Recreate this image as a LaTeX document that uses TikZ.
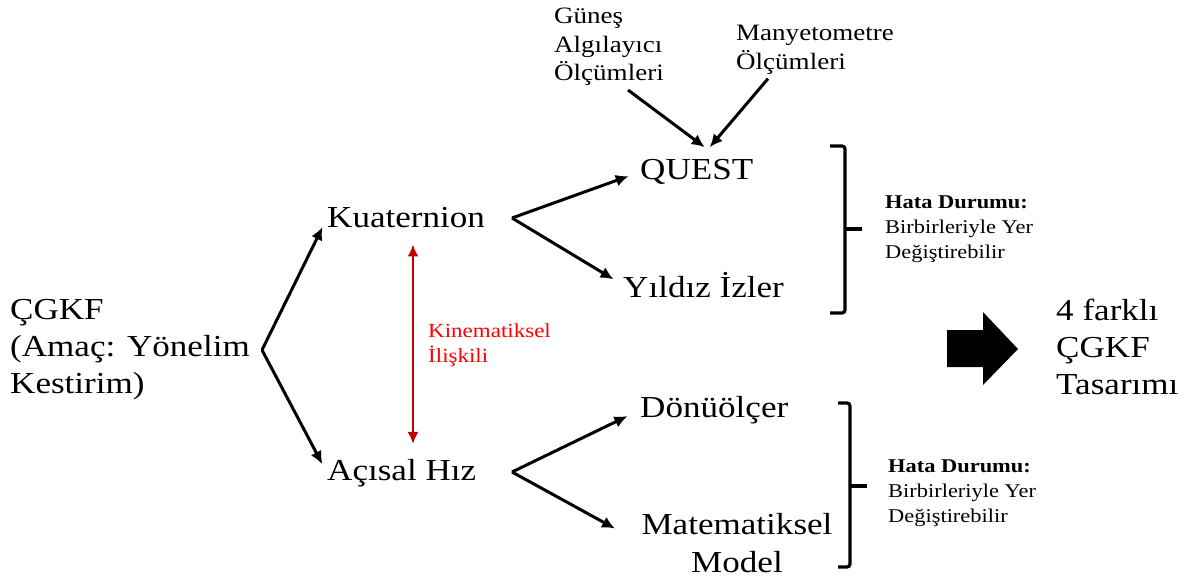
\documentclass[tikz,border=0pt]{standalone}
\usepackage{fontspec}
\setmainfont{Liberation Serif}[FakeStretch=1.15]
\usetikzlibrary{arrows.meta}
\definecolor{darkred}{RGB}{192,0,0}
\definecolor{brightred}{RGB}{255,0,0}
\tikzset{
  big/.style={inner sep=0pt, font=\fontsize{30.5}{37}\selectfont, align=left},
  mid/.style={inner sep=0pt, font=\fontsize{23.5}{28.5}\selectfont, align=left},
  small/.style={inner sep=0pt, font=\fontsize{19.5}{25}\selectfont, align=left},
  conn/.style={line width=3pt, -{Latex[length=13pt,width=12pt]}},
  redconn/.style={line width=2.8pt, darkred, {Latex[length=12pt,width=11pt]}-{Latex[length=12pt,width=11pt]}},
  brace/.style={line width=3.2pt, rounded corners=3pt}
}
\begin{document}
\begin{tikzpicture}[x=1pt,y=-1pt]
\useasboundingbox (0,0) rectangle (1189,581);
% nodes
\node[big, anchor=west] (cgkf) at (10,350) {ÇGKF\\(Amaç: Yönelim\\Kestirim)};
\node[big, anchor=west] (kua) at (327,218) {Kuaternion};
\node[big, anchor=west] (aci) at (327,473) {Açısal Hız};
\node[big, anchor=west] (quest) at (640,172) {QUEST};
\node[big, anchor=west] (yil) at (623,285) {Yıldız İzler};
\node[big, anchor=west] (don) at (640,410) {Dönüölçer};
\node[big, align=center, font=\fontsize{30.5}{38}\selectfont] (mat) at (737,543) {Matematiksel\\Model};
\node[mid, anchor=west] (gun) at (554,47) {Güneş\\Algılayıcı\\Ölçümleri};
\node[mid, anchor=west] (man) at (736,50) {Manyetometre\\Ölçümleri};
\node[small, anchor=west] (hata1) at (885,229) {\textbf{Hata Durumu:}\\Birbirleriyle Yer\\Değiştirebilir};
\node[small, anchor=west] (hata2) at (888,493) {\textbf{Hata Durumu:}\\Birbirleriyle Yer\\Değiştirebilir};
\node[small, anchor=west, text=brightred, font=\fontsize{20}{25}\selectfont] (kin) at (428,345) {Kinematiksel\\İlişkili};
\node[big, anchor=west] (res) at (1056,347) {4 farklı\\ÇGKF\\Tasarımı};
% branch vertices
\coordinate (v1) at (262,350);
\coordinate (v2) at (512,218);
\coordinate (v3) at (512,472);
\coordinate (rx) at (413,0);
% connectors
\draw[conn, shorten >=10pt] (v1) -- (kua.west);
\draw[conn, shorten >=10pt] (v1) -- (aci.west);
\draw[conn, shorten >=12pt] (v2) -- (quest.west);
\draw[conn, shorten >=11pt] (v2) -- (yil.west);
\draw[conn, shorten >=14pt] (v3) -- (don.west);
\draw[conn, shorten >=30pt] (v3) -- (mat.west);
\draw[conn] ([xshift=-36pt,yshift=-4pt]gun.south east) -- ([xshift=8pt,yshift=12pt]quest.north);
\draw[conn] ([xshift=32pt,yshift=-4pt]man.south west) -- ([xshift=13pt,yshift=12pt]quest.north);
\draw[redconn, shorten <=16pt, shorten >=15pt] (kua.south -| rx) -- (aci.north -| rx);
% braces
\draw[brace] (830,146) -- (845,146) -- (845,313) -- (830,313);
\draw[line width=3.2pt] (845,229) -- (862,229);
\draw[brace] (838,403) -- (850,403) -- (850,567) -- (838,567);
\draw[line width=3.2pt] (850,486) -- (867,486);
% block arrow
\fill (947,330) -- (983,330) -- (983,312) -- (1018,349) -- (983,385) -- (983,367) -- (947,367) -- cycle;
\end{tikzpicture}
\end{document}
